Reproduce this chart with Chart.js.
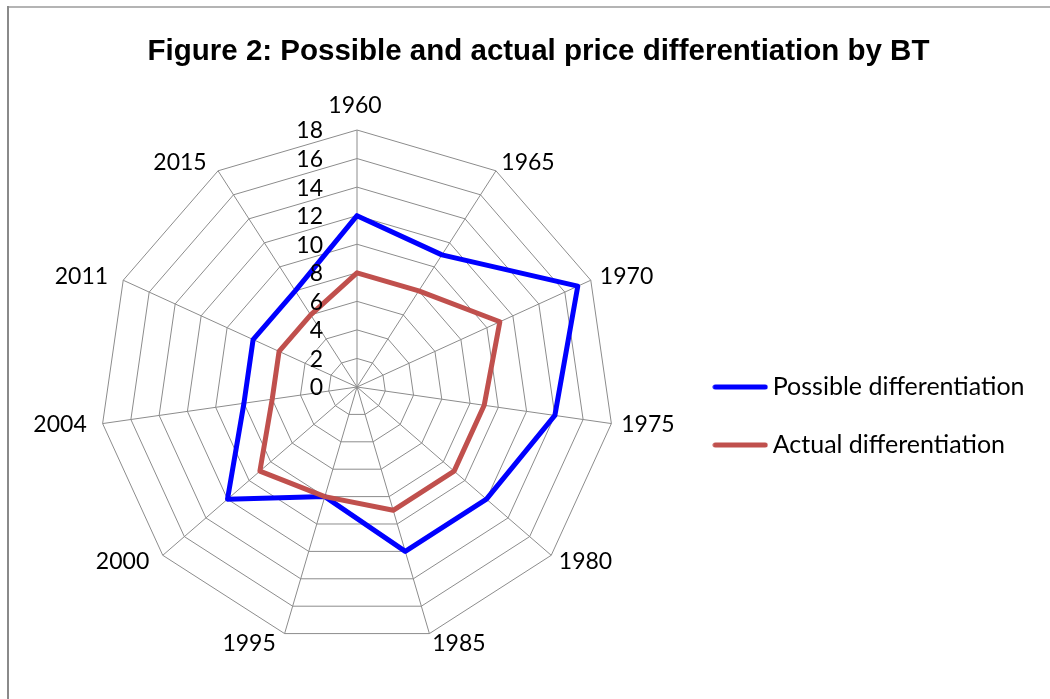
<!DOCTYPE html>
<html>
<head>
<meta charset="utf-8">
<script src="https://cdn.jsdelivr.net/npm/chart.js@4.4.1/dist/chart.umd.min.js"></script>
<style>
  html, body { margin: 0; padding: 0; background: #ffffff; }
  #wrap { position: relative; width: 1050px; height: 699px; overflow: hidden; }
  #c { position: absolute; left: 0; top: 0; }
  #bt { position: absolute; left: 7px; top: 6px; width: 1100px; height: 2px; background: #b4b4b4; }
  #bl { position: absolute; left: 7px; top: 6px; width: 2px; height: 800px; background: #8a8a8a; }
</style>
</head>
<body>
<div id="wrap">
  <canvas id="c" width="1050" height="699"></canvas>
  <div id="bt"></div>
  <div id="bl"></div>
</div>
<script>
// ---- data ----
const categories = ['1960', '1965', '1970', '1975', '1980', '1985', '1995', '2000', '2004', '2011', '2015'];
const possibleDifferentiation = [12, 11, 17, 14, 12, 12, 8, 12, 8, 8, 8];
const actualDifferentiation = [8, 8, 11, 9, 9, 9, 8, 9, 6, 6, 6];
const tickValues = [0, 2, 4, 6, 8, 10, 12, 14, 16, 18];
const seriesNames = ['Possible differentiation', 'Actual differentiation'];
const seriesColors = ['#0000FF', '#C0504D'];
const chartTitle = 'Figure 2: Possible and actual price differentiation by BT';

// ---- layout helpers ----
const FONT_FAMILY = 'Lato, "Open Sans", sans-serif';
const LABEL_SIZE = 23;
const LEGEND_SIZE = 25;
const LEGEND_PAD = 33;
const LEGEND_BOX = 40;
const AREA_LEFT = 27;
const AREA_RIGHT = 687.2;

const mctx = document.createElement('canvas').getContext('2d');
mctx.font = LEGEND_SIZE + 'px ' + FONT_FAMILY;
const maxTextW = Math.max(...seriesNames.map(s => mctx.measureText(s).width));
const legendWidth = LEGEND_PAD + LEGEND_BOX + LEGEND_SIZE / 2 + maxTextW + 10;
const spaceRight = Math.max(0, 1050 - AREA_RIGHT - legendWidth);

// legend line symbol (short line with round caps)
function legendSymbol(color) {
  const cv = document.createElement('canvas');
  cv.width = 56; cv.height = 8;
  const g = cv.getContext('2d');
  g.strokeStyle = color;
  g.lineWidth = 5;
  g.lineCap = 'round';
  g.beginPath();
  g.moveTo(3, 4);
  g.lineTo(53, 4);
  g.stroke();
  return cv;
}

// empty layout box to the right of the legend (keeps the title centred on the full width)
const spacerPlugin = {
  id: 'spacerPlugin',
  beforeInit(chart) {
    const box = {
      position: 'right',
      weight: 2000,
      fullSize: false,
      options: { display: false },
      width: spaceRight, height: 0,
      left: 0, top: 0, right: 0, bottom: 0,
      isHorizontal() { return false; },
      update(maxWidth, maxHeight) { this.width = spaceRight; this.height = maxHeight; },
      draw() {}
    };
    Chart.layouts.addBox(chart, box);
  }
};

const labelPlugin = {
  id: 'labelPlugin',
  afterDatasetsDraw(chart) {
    const scale = chart.scales.r;
    const ctx = chart.ctx;
    ctx.save();
    ctx.fillStyle = '#000000';
    ctx.font = LABEL_SIZE + 'px ' + FONT_FAMILY;
    // tick labels
    ctx.textAlign = 'right';
    ctx.textBaseline = 'middle';
    tickValues.forEach(v => {
      const d = scale.getDistanceFromCenterForValue(v);
      ctx.fillText(String(v), scale.xCenter - 34, scale.yCenter - d + 1);
    });
    // category labels
    const R = scale.drawingArea;
    categories.forEach((lab, i) => {
      const ang = scale.getIndexAngle(i);
      const s = Math.sin(ang);
      const p = scale.getPointPosition(i, R + 10);
      ctx.textBaseline = 'middle';
      if (Math.abs(s) < 1e-6) {
        ctx.textAlign = 'center';
        ctx.fillText(lab, p.x - 2, p.y - 14);
      } else if (s > 0) {
        ctx.textAlign = 'left';
        ctx.fillText(lab, p.x, p.y);
      } else {
        ctx.textAlign = 'right';
        ctx.fillText(lab, p.x - 6, p.y);
      }
    });
    ctx.restore();
  }
};

Chart.defaults.color = '#000000';
Chart.defaults.font.family = FONT_FAMILY;

function makeDataset(idx, values, order) {
  return {
    label: seriesNames[idx],
    data: values,
    borderColor: seriesColors[idx],
    backgroundColor: seriesColors[idx],
    borderWidth: 5,
    borderJoinStyle: 'round',
    borderCapStyle: 'round',
    pointRadius: 0,
    pointHoverRadius: 0,
    pointStyle: legendSymbol(seriesColors[idx]),
    fill: false,
    tension: 0,
    order: order
  };
}

new Chart(document.getElementById('c'), {
  type: 'radar',
  data: {
    labels: categories,
    datasets: [
      makeDataset(0, possibleDifferentiation, 2),
      makeDataset(1, actualDifferentiation, 1)
    ]
  },
  options: {
    responsive: false,
    animation: false,
    devicePixelRatio: 1,
    layout: {
      padding: { left: AREA_LEFT, right: 0, top: 0, bottom: 55 }
    },
    scales: {
      r: {
        min: 0,
        max: 18,
        ticks: { display: false, stepSize: 2 },
        grid: { color: '#8c8c8c', lineWidth: 1, circular: false },
        angleLines: { color: '#8c8c8c', lineWidth: 1 },
        pointLabels: { display: false }
      }
    },
    plugins: {
      title: {
        display: true,
        text: chartTitle,
        color: '#000000',
        font: { family: '"Liberation Sans", Arial, sans-serif', size: 29.5, weight: 'bold' },
        padding: { top: 34.6, bottom: 60 }
      },
      legend: {
        display: true,
        position: 'right',
        fullSize: false,
        align: 'center',
        title: { display: true, text: ' ', font: { size: 10 }, padding: 23 },
        labels: {
          usePointStyle: true,
          pointStyleWidth: LEGEND_BOX,
          boxWidth: LEGEND_BOX,
          padding: LEGEND_PAD,
          color: '#000000',
          font: { family: FONT_FAMILY, size: LEGEND_SIZE },
          sort: (a, b) => a.datasetIndex - b.datasetIndex
        }
      },
      tooltip: { enabled: false }
    }
  },
  plugins: [spacerPlugin, labelPlugin]
});
</script>
</body>
</html>
